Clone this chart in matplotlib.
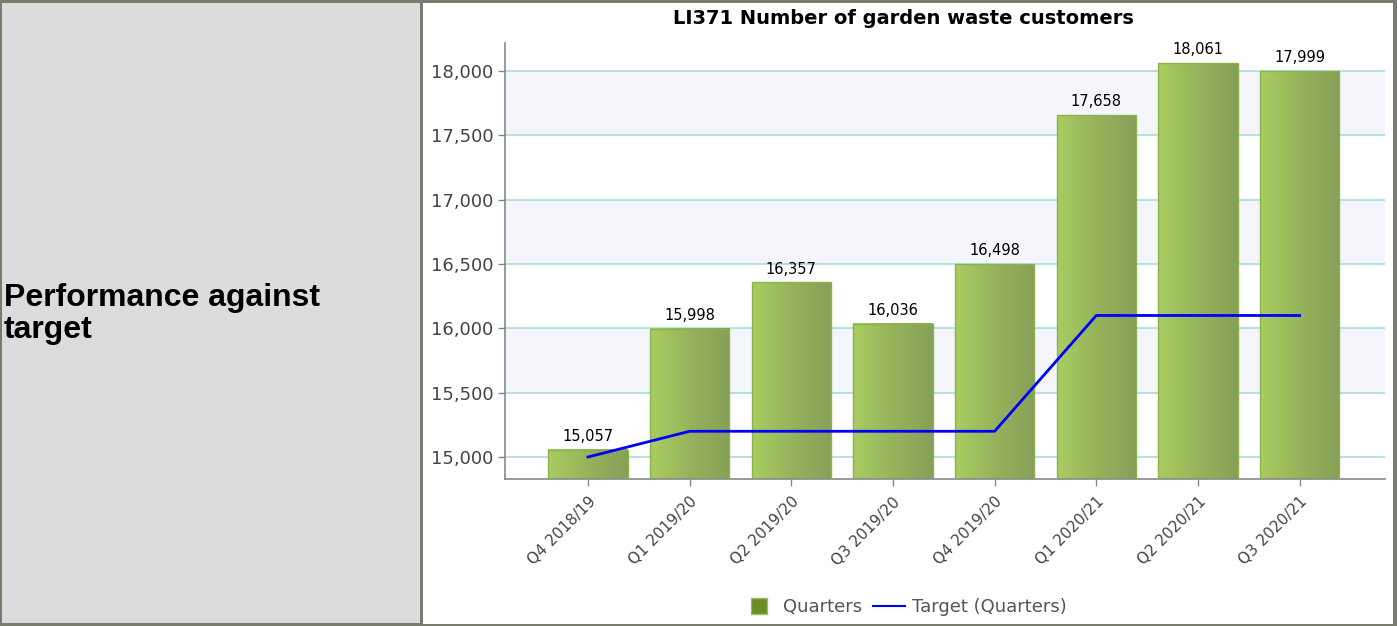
import numpy as np
import matplotlib.pyplot as plt
from matplotlib.colors import LinearSegmentedColormap
from matplotlib.patches import Rectangle
from matplotlib.lines import Line2D
from matplotlib.ticker import FuncFormatter

# Quarterly figures
quarters = ["Q4 2018/19", "Q1 2019/20", "Q2 2019/20", "Q3 2019/20",
            "Q4 2019/20", "Q1 2020/21", "Q2 2020/21", "Q3 2020/21"]
customers = [15057, 15998, 16357, 16036, 16498, 17658, 18061, 17999]
target = [15000, 15200, 15200, 15200, 15200, 16100, 16100, 16100]

W, H = 1397, 626
fig = plt.figure(figsize=(W / 100, H / 100), dpi=100)

# table cell backgrounds and borders
border = "#7a7a6e"
fig.patches.append(Rectangle((0, 0), 1, 1, transform=fig.transFigure,
                             facecolor=border, edgecolor="none", zorder=-10))
fig.patches.append(Rectangle((2 / W, 3 / H), (420 - 2) / W, (623 - 3) / H,
                             transform=fig.transFigure, facecolor="#dcdcdc",
                             edgecolor="none", zorder=-9))
fig.patches.append(Rectangle((423 / W, 2 / H), (1393 - 423) / W, (623 - 2) / H,
                             transform=fig.transFigure, facecolor="white",
                             edgecolor="none", zorder=-9))

fig.text(4 / W, 1 - 314 / H, "Performance against\ntarget", family="Liberation Sans",
         fontweight="bold", fontsize=23, va="center", ha="left",
         linespacing=1.12, color="black")

ax = fig.add_axes([505 / W, 1 - 479 / H, (1385 - 505) / W, (479 - 43) / H])
ax.set_facecolor("white")

# alternating bands and grid lines
for lo in range(15500, 18500, 1000):
    ax.axhspan(lo, lo + 500, color="#f4f6fc", zorder=0, lw=0)
for y in range(15000, 18500, 500):
    ax.axhline(y, color="#a9dbe3", lw=1.2, zorder=1)

grad = LinearSegmentedColormap.from_list("bar", ["#a9cd61", "#96b35c", "#87a058"])
x = np.arange(len(quarters))
bw = 0.78
base = 14829
for xi, v in zip(x, customers):
    ax.imshow(np.linspace(0, 1, 64).reshape(1, -1), cmap=grad, aspect="auto",
              extent=(xi - bw / 2, xi + bw / 2, base, v), zorder=2,
              interpolation="bilinear")
    ax.add_patch(Rectangle((xi - bw / 2, base), bw, v - base, facecolor="none",
                           edgecolor="#8cb24c", lw=1, zorder=3))
    ax.text(xi, v + 45, f"{v:,}", ha="center", va="bottom", fontsize=10.5,
            color="black", zorder=5, clip_on=False)

ax.plot(x, target, color="#0000ff", lw=2, zorder=4)

ax.set_xlim(-0.816, 7.84)
ax.set_ylim(base, 18218)

fig.text(903 / W, 1 - 19 / H, "LI371 Number of garden waste customers",
         fontsize=14, fontweight="bold", ha="center", va="center", color="black")

ax.set_yticks(range(15000, 18500, 500))
ax.yaxis.set_major_formatter(FuncFormatter(lambda v, p: f"{int(v):,}"))
ax.set_xticks(x)
ax.set_xticklabels(quarters, rotation=45, ha="right", rotation_mode="anchor",
                   fontsize=11)
ax.tick_params(axis="y", labelsize=13, colors="#888888", labelcolor="#444444",
               length=5, width=1)
ax.tick_params(axis="x", colors="#888888", labelcolor="#444444", length=5,
               width=1, pad=6)
for s in ["top", "right"]:
    ax.spines[s].set_visible(False)
for s in ["left", "bottom"]:
    ax.spines[s].set_color("#888888")
    ax.spines[s].set_linewidth(1.2)

handles = [Line2D([0], [0], marker="s", markersize=12, linestyle="none",
                  markerfacecolor="#6b8e23", markeredgecolor="#a0b870",
                  label="Quarters"),
           Line2D([0], [0], color="#0000ff", lw=1.5, label="Target (Quarters)")]
fig.legend(handles=handles, loc="center", bbox_to_anchor=(905 / W, 1 - 607 / H),
           ncol=2, frameon=False, fontsize=13, handlelength=1.8,
           handletextpad=0.4, columnspacing=0.6, labelcolor="#555555")

fig.savefig("out.png", dpi=100)
